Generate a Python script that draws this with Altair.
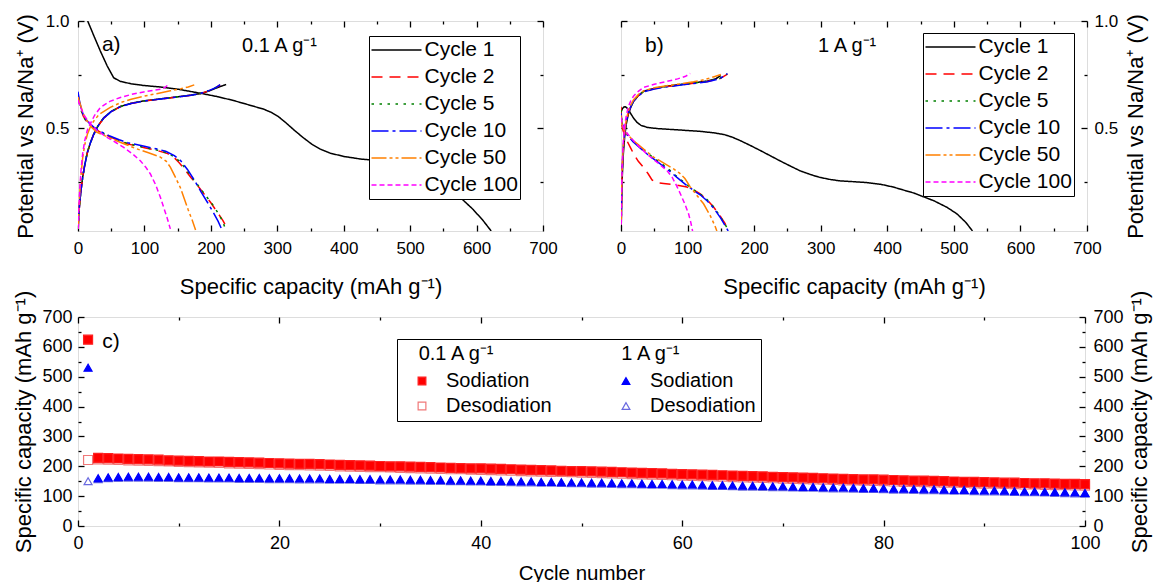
import altair as alt
import pandas as pd

FONT = "Liberation Sans"

# ---------------------------------------------------------------- line styles
CYCLES = ["Cycle 1", "Cycle 2", "Cycle 5", "Cycle 10", "Cycle 50", "Cycle 100"]
CYCLE_COLORS = ["#000000", "#ff0000", "#008000", "#0000ff", "#ff8000", "#ff00ff"]
CYCLE_DASHES = [[1, 0], [11, 7], [2.5, 5.5], [17, 4, 3, 4], [15, 3, 3, 3, 3, 3], [5, 3]]

# ------------------------------------------- a) 0.1 A g-1: (capacity, potential)
A_DIS = {
    "Cycle 1": [(14.6, 1.0), (24, 0.93), (33.6, 0.86), (44, 0.79), (53.7, 0.735), (64, 0.718),
                (80, 0.707), (99, 0.699), (124, 0.692), (150, 0.682), (184, 0.663), (210, 0.647),
                (234, 0.629), (260, 0.606), (280, 0.588), (292, 0.572), (302, 0.553), (313, 0.525),
                (325, 0.492), (338, 0.458), (352, 0.425), (365, 0.402), (380, 0.383), (400, 0.368),
                (425, 0.356), (440, 0.352), (470, 0.345), (500, 0.332), (525, 0.306), (550, 0.255),
                (575, 0.178), (595, 0.12), (610, 0.068), (622, 0.02)],
    "Cycle 2": [(0, 0.66), (2, 0.62), (5, 0.582), (8, 0.556), (12, 0.536), (18, 0.516), (25, 0.498),
                (35, 0.479), (48, 0.459), (62, 0.441), (75, 0.426), (100, 0.409), (120, 0.395),
                (135, 0.381), (145, 0.362), (152, 0.34), (160, 0.31), (170, 0.27), (180, 0.232),
                (190, 0.192), (200, 0.152), (210, 0.106), (218, 0.07), (225, 0.03)],
    "Cycle 5": [(0, 0.655), (2, 0.618), (5, 0.58), (8, 0.555), (12, 0.535), (18, 0.515), (25, 0.498),
                (35, 0.479), (48, 0.46), (62, 0.442), (75, 0.428), (100, 0.41), (120, 0.397),
                (135, 0.384), (146, 0.364), (154, 0.342), (162, 0.31), (172, 0.268), (182, 0.228),
                (192, 0.186), (202, 0.146), (211, 0.103), (217, 0.07), (222, 0.03)],
    "Cycle 10": [(0, 0.67), (2, 0.63), (5, 0.59), (8, 0.562), (12, 0.54), (18, 0.52), (25, 0.502),
                 (35, 0.483), (48, 0.463), (62, 0.446), (75, 0.432), (100, 0.415), (120, 0.402),
                 (132, 0.392), (145, 0.372), (155, 0.347), (165, 0.306), (175, 0.258), (185, 0.204),
                 (195, 0.153), (204, 0.105), (211, 0.065), (216, 0.03)],
    "Cycle 50": [(0, 0.645), (3.5, 0.61), (8, 0.567), (13.5, 0.535), (20, 0.505), (28, 0.482),
                 (40, 0.465), (55, 0.445), (70, 0.426), (88, 0.404), (105, 0.386), (124, 0.365),
                 (133, 0.345), (139, 0.318), (146, 0.275), (154, 0.223), (160, 0.17), (166, 0.118),
                 (172, 0.07), (177, 0.025)],
    "Cycle 100": [(0, 0.63), (3.5, 0.6), (9, 0.56), (18.5, 0.52), (30, 0.485), (43.7, 0.457),
                  (57, 0.433), (68.8, 0.41), (82, 0.38), (93.8, 0.348), (102, 0.318), (109, 0.286),
                  (117, 0.235), (124, 0.177), (129, 0.13), (134, 0.083), (139, 0.03)],
}
A_CHG = {
    "Cycle 1": [(0.3, 0.03), (1, 0.09), (2.5, 0.15), (4.5, 0.21), (7, 0.27), (10, 0.325), (14, 0.385),
                (18.5, 0.43), (23.5, 0.47), (30, 0.51), (38.6, 0.548), (50, 0.578), (63.7, 0.601),
                (80, 0.616), (98.8, 0.627), (125, 0.637), (149, 0.646), (170, 0.654), (184, 0.661),
                (197, 0.673), (209, 0.688), (223, 0.704)],
    "Cycle 2": [(0.3, 0.03), (1, 0.09), (2.5, 0.15), (4.5, 0.21), (7, 0.27), (10, 0.325), (14, 0.385),
                (18.5, 0.43), (23.5, 0.47), (30, 0.508), (38.6, 0.546), (50, 0.576), (63.7, 0.6),
                (80, 0.615), (98.8, 0.626), (125, 0.636), (149, 0.645), (170, 0.653), (184, 0.661),
                (197, 0.674), (207, 0.688), (214, 0.702)],
    "Cycle 5": [(0.3, 0.03), (1, 0.09), (2.5, 0.15), (4.5, 0.21), (7, 0.27), (10, 0.326), (14, 0.386),
                (18.5, 0.431), (23.5, 0.471), (30, 0.509), (38.6, 0.547), (50, 0.577), (63.7, 0.601),
                (80, 0.616), (98.8, 0.627), (125, 0.637), (149, 0.646), (170, 0.654), (184, 0.662),
                (197, 0.675), (207, 0.689), (213, 0.701)],
    "Cycle 10": [(0.3, 0.03), (1, 0.09), (2.5, 0.15), (4.5, 0.21), (7, 0.27), (10, 0.325), (14, 0.385),
                 (18.5, 0.43), (23.5, 0.47), (30, 0.509), (38.6, 0.547), (50, 0.577), (63.7, 0.6),
                 (80, 0.615), (98.8, 0.626), (125, 0.636), (149, 0.645), (170, 0.653), (184, 0.661),
                 (197, 0.675), (208, 0.69), (214, 0.703)],
    "Cycle 50": [(0.3, 0.03), (1, 0.1), (2.5, 0.19), (4.5, 0.28), (7, 0.36), (10, 0.42), (14, 0.47),
                 (18.5, 0.505), (23.5, 0.532), (32, 0.565), (48.6, 0.597), (65, 0.62), (80, 0.635),
                 (98.8, 0.649), (120, 0.662), (139, 0.674), (155, 0.684), (166, 0.692), (175, 0.702)],
    "Cycle 100": [(0.3, 0.03), (1, 0.11), (2.5, 0.21), (4.5, 0.3), (7, 0.38), (10, 0.44), (14, 0.49),
                  (18.5, 0.52), (25, 0.56), (33.6, 0.596), (48, 0.625), (63.7, 0.643), (80, 0.657),
                  (98.8, 0.669), (115, 0.677), (124, 0.681), (131, 0.69), (137, 0.705)],
}

# --------------------------------------------- b) 1 A g-1: (capacity, potential)
B_DIS = {
    "Cycle 1": [(0, 0.575), (2, 0.59), (4, 0.598), (6.5, 0.6), (9, 0.594), (12, 0.582), (15, 0.566),
                (19, 0.546), (24, 0.527), (30, 0.513), (40, 0.503), (55, 0.498), (69, 0.495),
                (90, 0.491), (119, 0.485), (140, 0.478), (155, 0.47), (167, 0.458), (179, 0.442),
                (195, 0.418), (209, 0.396), (225, 0.37), (239, 0.347), (255, 0.322), (269, 0.301),
                (285, 0.283), (299, 0.27), (315, 0.26), (329, 0.254), (350, 0.25), (369, 0.246),
                (390, 0.238), (409, 0.225), (440, 0.197), (470, 0.161), (490, 0.13), (505, 0.099),
                (518, 0.06), (528, 0.02)],
    "Cycle 2": [(0, 0.6), (0.8, 0.54), (1.5, 0.51), (3, 0.49), (6, 0.462), (9, 0.441), (14, 0.41),
                (19, 0.38), (26, 0.345), (34, 0.316), (41, 0.286), (46.6, 0.258), (52, 0.247),
                (64, 0.242), (80, 0.236), (99, 0.225), (110, 0.21), (119, 0.193), (130, 0.163),
                (139, 0.132), (148, 0.095), (156, 0.057), (162, 0.02)],
    "Cycle 5": [(0, 0.585), (1, 0.545), (2, 0.525), (5, 0.5), (9, 0.474), (18, 0.442), (29, 0.412),
                (40, 0.382), (54, 0.35), (64, 0.327), (74, 0.302), (84, 0.274), (99, 0.236),
                (110, 0.211), (119, 0.193), (130, 0.164), (139, 0.133), (150, 0.083), (159, 0.037),
                (163, 0.02)],
    "Cycle 10": [(0, 0.57), (1, 0.535), (2, 0.52), (5, 0.495), (9, 0.469), (18, 0.437), (29, 0.407),
                 (40, 0.377), (54, 0.345), (64, 0.321), (74, 0.297), (84, 0.27), (99, 0.232),
                 (110, 0.207), (119, 0.189), (130, 0.159), (139, 0.128), (150, 0.079), (158, 0.036),
                 (161, 0.02)],
    "Cycle 50": [(0, 0.56), (1.5, 0.52), (4, 0.495), (9, 0.472), (19, 0.441), (34, 0.402), (49, 0.365),
                 (65, 0.336), (79, 0.31), (88, 0.29), (96, 0.265), (104, 0.226), (114, 0.186),
                 (124, 0.147), (134, 0.092), (141, 0.045), (144, 0.02)],
    "Cycle 100": [(0, 0.55), (2, 0.515), (5, 0.495), (9, 0.477), (14, 0.458), (25, 0.42), (39, 0.379),
                  (54, 0.341), (69, 0.302), (77, 0.27), (84, 0.228), (90, 0.188), (96, 0.145),
                  (101.6, 0.099), (105, 0.058), (107.5, 0.02)],
}
B_CHG = {
    "Cycle 1": [(0.3, 0.03), (1, 0.16), (2, 0.28), (3.5, 0.38), (5.5, 0.46), (8, 0.52), (11, 0.565),
                (15, 0.6), (19, 0.625), (26, 0.652), (34, 0.672), (50, 0.686), (69, 0.696), (90, 0.704),
                (109, 0.711), (130, 0.72), (142, 0.73), (150, 0.745)],
    "Cycle 2": [(0.3, 0.05), (1, 0.2), (2, 0.32), (3.5, 0.41), (5.5, 0.48), (8, 0.53), (11, 0.57),
                (15, 0.603), (19, 0.627), (26, 0.652), (34, 0.67), (50, 0.684), (69, 0.694),
                (90, 0.702), (109, 0.709), (130, 0.718), (148, 0.73), (160, 0.752)],
    "Cycle 5": [(0.3, 0.05), (1, 0.2), (2, 0.32), (3.5, 0.41), (5.5, 0.48), (8, 0.53), (11, 0.571),
                (15, 0.604), (19, 0.628), (26, 0.653), (34, 0.671), (50, 0.685), (69, 0.695),
                (90, 0.703), (109, 0.71), (130, 0.719), (148, 0.731), (159, 0.752)],
    "Cycle 10": [(0.3, 0.05), (1, 0.2), (2, 0.32), (3.5, 0.41), (5.5, 0.48), (8, 0.53), (11, 0.57),
                 (15, 0.603), (19, 0.627), (26, 0.651), (34, 0.669), (50, 0.683), (69, 0.693),
                 (90, 0.701), (109, 0.708), (130, 0.717), (148, 0.73), (160, 0.754)],
    "Cycle 50": [(0.3, 0.05), (1, 0.21), (2, 0.33), (3.5, 0.42), (5.5, 0.49), (8, 0.54), (11, 0.58),
                 (15, 0.61), (19, 0.633), (26, 0.657), (34, 0.674), (50, 0.688), (69, 0.698),
                 (90, 0.707), (109, 0.716), (125, 0.726), (140, 0.74), (150, 0.75)],
    "Cycle 100": [(0.3, 0.05), (1, 0.22), (2, 0.35), (3.5, 0.44), (5.5, 0.51), (8, 0.56), (11, 0.6),
                  (15, 0.63), (19, 0.65), (26, 0.672), (34, 0.69), (50, 0.705), (69, 0.718),
                  (85, 0.73), (97, 0.742), (104, 0.755)],
}

# ------------------------------------------- c) capacity per cycle (mAh g-1)
CYCLE_NO = list(range(1, 101))
CAP01_SOD = [624,
             228, 227, 226, 225, 224, 223, 222, 220, 219,
             218, 217, 216, 216, 215, 214, 213, 212, 211, 210,
             209, 208, 208, 207, 206, 205, 204, 203, 202, 201,
             200, 200, 199, 198, 197, 196, 195, 194, 193, 193,
             192, 191, 190, 189, 188, 187, 186, 185, 184, 184,
             183, 182, 181, 180, 179, 178, 177, 176, 175, 174,
             173, 172, 171, 170, 169, 168, 167, 166, 165, 164,
             163, 162, 161, 160, 159, 158, 157, 156, 156, 155,
             154, 153, 152, 152, 151, 150, 149, 148, 148, 147,
             146, 145, 145, 144, 143, 143, 142, 141, 141, 140]
CAP01_DES = [221,
             223, 222, 221, 220, 219, 218, 217, 216, 215,
             214, 213, 212, 211, 210, 209, 208, 207, 206, 205,
             204, 204, 203, 202, 201, 200, 199, 198, 197, 197,
             196, 195, 194, 193, 192, 191, 190, 190, 189, 188,
             187, 186, 185, 184, 183, 182, 181, 181, 180, 179,
             178, 177, 176, 175, 174, 173, 172, 171, 170, 169,
             168, 167, 166, 165, 164, 163, 162, 161, 160, 159,
             158, 157, 156, 155, 154, 153, 153, 152, 151, 150,
             149, 148, 148, 147, 146, 145, 145, 144, 143, 142,
             142, 141, 140, 139, 139, 138, 137, 137, 136, 135]
CAP1_SOD = [530,
            160, 163, 164, 165, 165, 165, 164, 164, 163,
            163, 163, 162, 162, 162, 161, 161, 161, 160, 160,
            160, 159, 159, 159, 158, 158, 158, 157, 157, 156,
            156, 156, 155, 155, 154, 154, 153, 153, 152, 152,
            151, 151, 150, 149, 149, 148, 148, 147, 146, 146,
            145, 145, 144, 143, 143, 142, 141, 141, 140, 139,
            139, 138, 137, 137, 136, 135, 135, 134, 133, 133,
            132, 131, 131, 130, 129, 129, 128, 127, 127, 126,
            125, 125, 124, 123, 123, 122, 121, 121, 120, 119,
            119, 118, 117, 116, 116, 115, 114, 113, 112, 111]
CAP1_DES = [150,
            157, 160, 161, 162, 162, 162, 161, 161, 160,
            160, 160, 159, 159, 159, 158, 158, 158, 157, 157,
            157, 156, 156, 156, 155, 155, 155, 154, 154, 153,
            153, 153, 152, 152, 151, 151, 150, 150, 149, 149,
            148, 148, 147, 146, 146, 145, 145, 144, 143, 143,
            142, 142, 141, 140, 140, 139, 138, 138, 137, 136,
            136, 135, 134, 134, 133, 132, 132, 131, 130, 130,
            129, 128, 128, 127, 126, 126, 125, 124, 124, 123,
            122, 122, 121, 120, 120, 119, 118, 118, 117, 116,
            116, 115, 114, 113, 113, 112, 111, 110, 109, 108]

# legend entries fill column by column: 0.1 A g-1 first, then 1 A g-1
SERIES_KEYS = ["Sodiation 0.1", "Desodiation 0.1", "Sodiation 1", "Desodiation 1"]
SERIES_FILL = ["#ff0000", "transparent", "#0000ff", "transparent"]
SERIES_STROKE = ["#ff2020", "#f07878", "#0000ff", "#6a6ae0"]
SERIES_SHAPE = ["square", "square", "triangle-up", "triangle-up"]

NBSP = "\u00a0"
LEGEND_C_TITLE = "\u200b" + NBSP * 3 + "0.1 A g⁻¹" + NBSP * 23 + "1 A g⁻¹"

CAP_TITLE = "Specific capacity (mAh g⁻¹)"
POT_TITLE = "Potential vs Na/Na⁺ (V)"

A_NOTES = [("a)", 36, 0.86, 21), ("0.1 A g⁻¹", 247, 0.855, 20)]
B_NOTES = [("b)", 36, 0.857, 21), ("1 A g⁻¹", 296, 0.857, 20)]
C_NOTES = [("c)", 2.4, 596)]


def curves_frame(dis, chg):
    rows = []
    for cyc in CYCLES:
        for branch, pts in (("dis", dis[cyc]), ("chg", chg[cyc])):
            for i, (q, v) in enumerate(pts):
                rows.append({"cycle": cyc, "branch": cyc + branch, "idx": i, "cap": q, "v": v})
    return pd.DataFrame(rows)


def axis_layers(channel, orient, xs, ys, major, minor, major_len, minor_len,
                labels=False, fmt=None, label_size=17, label_pad=0,
                title=None, title_size=22, title_pad=0, title_angle=None, title_baseline=None):
    """Inward-pointing major + minor ticks for one side of a frame."""
    dummy = pd.DataFrame({"u": [xs.domain[0]], "w": [ys.domain[0]]})
    layers = []
    for vals, ln, lab in ((major, major_len, labels), (minor, minor_len, False)):
        kw = dict(orient=orient, values=vals, tickSize=ln, offset=-ln, domain=False,
                  grid=False, tickColor="black", tickWidth=1.3, labels=lab)
        if lab:
            kw.update(format=fmt, labelFontSize=label_size, labelPadding=label_pad,
                      labelFlush=False, labelOverlap=False, labelColor="black", labelFont=FONT)
        if lab and title:
            kw.update(title=title, titleFontSize=title_size, titlePadding=title_pad,
                      titleFontWeight="normal", titleColor="black", titleFont=FONT)
            if title_angle is not None:
                kw["titleAngle"] = title_angle
            if title_baseline is not None:
                kw["titleBaseline"] = title_baseline
        else:
            kw["title"] = None
        if channel == "x":
            enc = {"x": alt.X("u:Q", scale=xs, axis=alt.Axis(**kw)),
                   "y": alt.Y("w:Q", scale=ys, axis=None)}
        else:
            enc = {"x": alt.X("u:Q", scale=xs, axis=None),
                   "y": alt.Y("w:Q", scale=ys, axis=alt.Axis(**kw))}
        layers.append(alt.Chart(dummy).mark_point(opacity=0).encode(**enc))
    return layers


def potential_panel(dis, chg, notes, legend_x, legend_y, labels_left, width):
    xs = alt.Scale(domain=[0, 700], nice=False, zero=False)
    ys = alt.Scale(domain=[0.02, 1.0], nice=False, zero=False)
    leg = alt.Legend(title=None, orient="none", legendX=legend_x, legendY=legend_y,
                     symbolType="stroke", symbolSize=2500, symbolStrokeWidth=1.5,
                     labelFontSize=21, labelFont=FONT, labelColor="black", labelOffset=2,
                     clipHeight=25, rowPadding=2, padding=1.5,
                     strokeColor="black", fillColor="white")
    lines = alt.Chart(curves_frame(dis, chg)).mark_line(strokeWidth=1.5, clip=True).encode(
        x=alt.X("cap:Q", scale=xs, axis=None),
        y=alt.Y("v:Q", scale=ys, axis=None),
        color=alt.Color("cycle:N", scale=alt.Scale(domain=CYCLES, range=CYCLE_COLORS), legend=leg),
        strokeDash=alt.StrokeDash("cycle:N", scale=alt.Scale(domain=CYCLES, range=CYCLE_DASHES),
                                  legend=leg),
        detail="branch:N",
        order="idx:Q",
    )
    notes_df = pd.DataFrame(notes, columns=["txt", "cap", "v", "fs"])
    text = alt.Chart(notes_df).mark_text(align="left", baseline="alphabetic", font=FONT,
                                         color="black").encode(
        x=alt.X("cap:Q", scale=xs, axis=None),
        y=alt.Y("v:Q", scale=ys, axis=None),
        text="txt:N",
        size=alt.Size("fs:Q", scale=None, legend=None),
    )
    x_major = [0, 100, 200, 300, 400, 500, 600, 700]
    x_minor = [50, 150, 250, 350, 450, 550, 650]
    y_major = [0.5, 1.0]
    y_minor = [0.25, 0.75]
    axes = []
    axes += axis_layers("x", "bottom", xs, ys, x_major, x_minor, 6, 3, labels=True, fmt="d",
                        label_size=17, label_pad=9, title=CAP_TITLE, title_size=22, title_pad=20)
    axes += axis_layers("x", "top", xs, ys, x_major, x_minor, 6, 3)
    if labels_left:
        axes += axis_layers("y", "left", xs, ys, y_major, y_minor, 6, 3, labels=True, fmt=".1f",
                            label_size=17, label_pad=9, title=POT_TITLE, title_size=22, title_pad=8)
        axes += axis_layers("y", "right", xs, ys, y_major, y_minor, 6, 3)
    else:
        axes += axis_layers("y", "left", xs, ys, y_major, y_minor, 6, 3)
        axes += axis_layers("y", "right", xs, ys, y_major, y_minor, 6, 3, labels=True, fmt=".1f",
                            label_size=17, label_pad=7, title=POT_TITLE, title_size=22, title_pad=8,
                            title_angle=-90, title_baseline="top")
    return alt.layer(lines, text, *axes).resolve_axis(x="independent", y="independent").properties(
        width=width, height=210)


panel_a = potential_panel(A_DIS, A_CHG, A_NOTES, 291, 15, True, 465)
panel_b = potential_panel(B_DIS, B_CHG, B_NOTES, 302, 12, False, 466)

# ------------------------------------------------------------------ panel c
def c_frame(pairs):
    rows = []
    for key, vals in pairs:
        for n, val in zip(CYCLE_NO, vals):
            rows.append({"cyc": n, "cap": val, "key": key})
    return pd.DataFrame(rows)


cx = alt.Scale(domain=[0, 100], nice=False, zero=False)
cy = alt.Scale(domain=[0, 700], nice=False, zero=False)
leg_c = alt.Legend(title=LEGEND_C_TITLE, orient="none", legendX=319, legendY=22, columns=2,
                   columnPadding=54, rowPadding=5, titlePadding=7, padding=5,
                   strokeColor="black", symbolSize=60, symbolOffset=10, labelOffset=14,
                   symbolStrokeWidth=1.2, labelFontSize=20, labelFont=FONT, labelColor="black",
                   titleFontSize=20, titleFont=FONT, titleFontWeight="normal", titleColor="black",
                   titleLimit=1000, labelExpr="split(datum.label, ' ')[0]")


def marker_layer(pairs, size):
    return alt.Chart(c_frame(pairs)).mark_point(strokeWidth=1.2, opacity=1, size=size).encode(
        x=alt.X("cyc:Q", scale=cx, axis=None),
        y=alt.Y("cap:Q", scale=cy, axis=None),
        shape=alt.Shape("key:N", scale=alt.Scale(domain=SERIES_KEYS, range=SERIES_SHAPE),
                        legend=leg_c),
        fill=alt.Fill("key:N", scale=alt.Scale(domain=SERIES_KEYS, range=SERIES_FILL),
                      legend=leg_c),
        stroke=alt.Stroke("key:N", scale=alt.Scale(domain=SERIES_KEYS, range=SERIES_STROKE),
                          legend=leg_c),
    )


squares = marker_layer([("Desodiation 0.1", CAP01_DES), ("Sodiation 0.1", CAP01_SOD)], 81)
triangles = marker_layer([("Desodiation 1", CAP1_DES), ("Sodiation 1", CAP1_SOD)], 64)

c_notes = pd.DataFrame(C_NOTES, columns=["txt", "cyc", "cap"])
c_text = alt.Chart(c_notes).mark_text(align="left", baseline="alphabetic", font=FONT,
                                      color="black", fontSize=21).encode(
    x=alt.X("cyc:Q", scale=cx, axis=None),
    y=alt.Y("cap:Q", scale=cy, axis=None),
    text="txt:N",
)
c_axes = []
c_axes += axis_layers("x", "bottom", cx, cy, [0, 20, 40, 60, 80, 100], [10, 30, 50, 70, 90], 6, 3,
                      labels=True, fmt="d", label_size=18, label_pad=8, title="Cycle number",
                      title_size=20.5, title_pad=11)
c_axes += axis_layers("x", "top", cx, cy, [0, 20, 40, 60, 80, 100], [10, 30, 50, 70, 90], 6, 3)
c_major = [0, 100, 200, 300, 400, 500, 600, 700]
c_minor = [50, 150, 250, 350, 450, 550, 650]
c_axes += axis_layers("y", "left", cx, cy, c_major, c_minor, 6, 3, labels=True, fmt="d",
                      label_size=18, label_pad=6, title=CAP_TITLE, title_size=22, title_pad=6)
c_axes += axis_layers("y", "right", cx, cy, c_major, c_minor, 6, 3, labels=True, fmt="d",
                      label_size=18, label_pad=8, title=CAP_TITLE, title_size=22, title_pad=6,
                      title_angle=-90, title_baseline="top")
panel_c = alt.layer(squares, triangles, c_text, *c_axes).resolve_axis(
    x="independent", y="independent").properties(width=1007, height=209)

top = alt.hconcat(panel_a, panel_b, spacing=78, bounds="flush").resolve_scale(
    color="independent", strokeDash="independent")

chart = alt.vconcat(top, panel_c, spacing=-9).resolve_scale(
    color="independent", strokeDash="independent", fill="independent", stroke="independent",
    shape="independent"
).resolve_legend(
    color="independent", strokeDash="independent", fill="independent", stroke="independent",
    shape="independent"
).properties(
    padding={"left": 12, "top": 11, "right": 5, "bottom": 5}
).configure_view(
    stroke="black", strokeWidth=1.6
).configure(
    font=FONT, background="white"
)

chart.save("out.html", embed_options={"renderer": "svg", "actions": False})
